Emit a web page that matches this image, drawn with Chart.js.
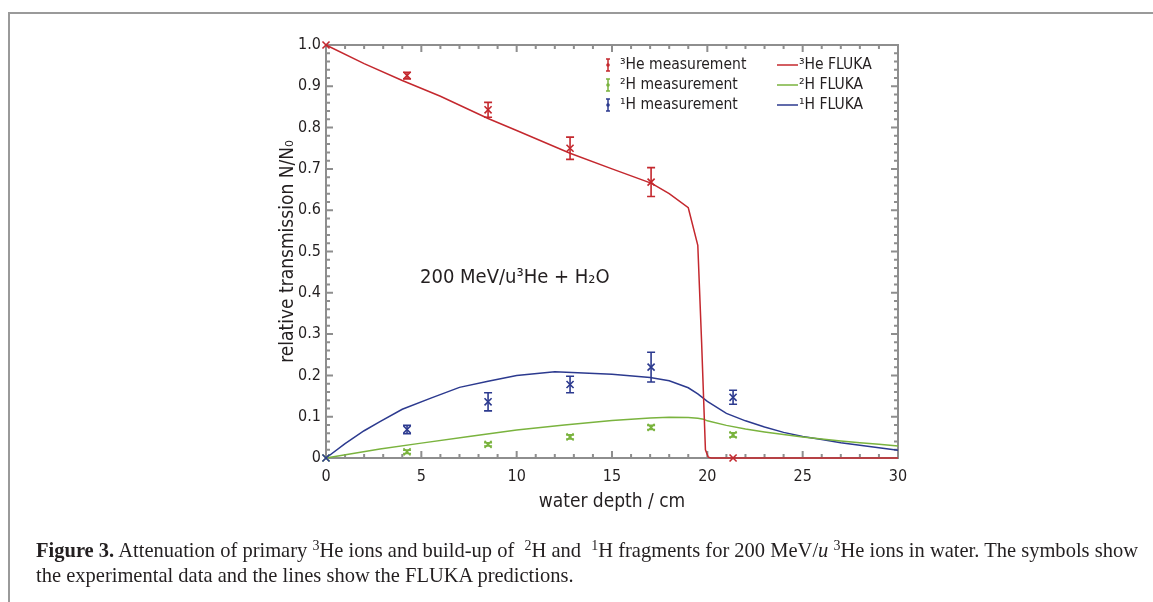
<!DOCTYPE html>
<html>
<head>
<meta charset="utf-8">
<script src="https://cdn.jsdelivr.net/npm/chart.js@4.4.1/dist/chart.umd.min.js"></script>
<style>
  html, body { margin:0; padding:0; background:#fff; width:1153px; height:602px; overflow:hidden; }
  #frame { position:absolute; left:8px; top:12px; width:1200px; height:700px; border-left:2px solid #9a9a9a; border-top:2px solid #9a9a9a; }
  #c { position:absolute; left:0; top:0; }
  #cap { position:absolute; left:36px; top:538px; font-family:'Liberation Serif', serif; font-size:21px; line-height:25px; color:#231f20; white-space:nowrap; transform-origin:left top; }
  #cap sup { font-size:0.68em; vertical-align:0.48em; line-height:0; }
</style>
</head>
<body>
<div id="frame"></div>
<canvas id="c" width="1153" height="602"></canvas>
<div id="cap">
  <div id="l1"><b>Figure 3.</b> Attenuation of primary <sup>3</sup>He ions and build-up of &nbsp;<sup>2</sup>H and &nbsp;<sup>1</sup>H fragments for 200 MeV/<i>u</i> <sup>3</sup>He ions in water. The symbols show</div>
  <div id="l2">the experimental data and the lines show the FLUKA predictions.</div>
</div>
<script>
// ---- data ----
const measDepth = [0, 4.25, 8.5, 12.8, 17.05, 21.35];
const he3Meas = [1.0, 0.926, 0.843, 0.750, 0.668, 0.0];
const he3Err  = [0, 0.008, 0.018, 0.027, 0.035, 0];
const h2Meas  = [0, 0.015, 0.033, 0.051, 0.074, 0.056];
const h2Err   = [0, 0.004, 0.004, 0.005, 0.005, 0.005];
const h1Meas  = [0, 0.069, 0.136, 0.178, 0.220, 0.147];
const h1Err   = [0, 0.010, 0.022, 0.020, 0.036, 0.017];

const he3FlukaX = [0, 2, 4, 6, 8.5, 10, 12.8, 15, 17.08, 18, 19, 19.5, 19.7, 19.9, 20.05, 20.2, 30];
const he3FlukaY = [1.0, 0.955, 0.914, 0.876, 0.822, 0.793, 0.738, 0.700, 0.665, 0.640, 0.606, 0.515, 0.28, 0.02, 0.002, 0, 0];
const h2FlukaX = [0, 2.83, 5, 7.5, 10, 12.5, 15, 17, 18, 19, 19.5, 19.8, 20, 21, 22, 23, 24, 25, 26, 27, 28, 29, 30];
const h2FlukaY = [0, 0.022, 0.036, 0.052, 0.068, 0.080, 0.091, 0.097, 0.0985, 0.098, 0.096, 0.094, 0.090, 0.079, 0.070, 0.063, 0.057, 0.051, 0.046, 0.041, 0.037, 0.033, 0.029];
const h1FlukaX = [0, 1, 2, 2.83, 4, 5.5, 7, 8.5, 10, 12, 15, 17, 18, 19, 19.5, 20, 21, 22, 23, 24, 25, 26, 27, 28, 29, 30];
const h1FlukaY = [0, 0.035, 0.066, 0.088, 0.118, 0.145, 0.171, 0.186, 0.200, 0.209, 0.203, 0.195, 0.187, 0.170, 0.155, 0.137, 0.108, 0.090, 0.075, 0.062, 0.052, 0.045, 0.037, 0.031, 0.025, 0.019];

const xTicks = [0, 5, 10, 15, 20, 25, 30];
const yTickLabels = ['0', '0.1', '0.2', '0.3', '0.4', '0.5', '0.6', '0.7', '0.8', '0.9', '1.0'];

const RED = '#c4282e', GREEN = '#7ab33e', BLUE = '#2c3a8f';
const FONT = "'DejaVu Sans Condensed', 'DejaVu Sans', sans-serif";
const TXT = '#231f20';

const pts = (xs, ys) => xs.map((x, i) => ({x, y: ys[i]}));

const errDatasets = [
  {key: 'he3', err: he3Err, color: RED},
  {key: 'h2', err: h2Err, color: GREEN},
  {key: 'h1', err: h1Err, color: BLUE},
];

const frameTicks = {
  id: 'frameTicks',
  beforeDatasetsDraw(chart) {
    const {ctx, chartArea: a, scales: {x, y}} = chart;
    ctx.save();
    ctx.strokeStyle = '#8e8e8e';
    ctx.lineWidth = 2;
    ctx.beginPath();
    for (let v = 0; v <= 30; v++) {
      const px = x.getPixelForValue(v);
      const L = v % 5 === 0 ? 7 : 4;
      ctx.moveTo(px, a.bottom); ctx.lineTo(px, a.bottom - L);
      ctx.moveTo(px, a.top); ctx.lineTo(px, a.top + L);
    }
    for (let i = 0; i <= 50; i++) {
      const py = y.getPixelForValue(i / 50);
      const L = i % 5 === 0 ? 7 : 4;
      ctx.moveTo(a.left, py); ctx.lineTo(a.left + L, py);
      ctx.moveTo(a.right, py); ctx.lineTo(a.right - L, py);
    }
    ctx.stroke();
    ctx.strokeRect(a.left, a.top, a.right - a.left, a.bottom - a.top);
    ctx.restore();
  }
};

const errorBars = {
  id: 'errorBars',
  afterDatasetsDraw(chart) {
    const {ctx, scales: {x, y}} = chart;
    ctx.save();
    ctx.lineWidth = 1.6;
    chart.data.datasets.forEach(ds => {
      if (!ds.errKey) return;
      const e = errDatasets.find(d => d.key === ds.errKey);
      ctx.strokeStyle = e.color;
      ds.data.forEach((p, i) => {
        const err = e.err[i];
        if (!err) return;
        const px = x.getPixelForValue(p.x);
        const y1 = y.getPixelForValue(p.y - err), y2 = y.getPixelForValue(p.y + err);
        ctx.beginPath();
        ctx.moveTo(px, y1); ctx.lineTo(px, y2);
        ctx.moveTo(px - 4, y1); ctx.lineTo(px + 4, y1);
        ctx.moveTo(px - 4, y2); ctx.lineTo(px + 4, y2);
        ctx.stroke();
      });
    });
    ctx.restore();
  }
};

const legendAndLabel = {
  id: 'legendAndLabel',
  afterDraw(chart) {
    const {ctx} = chart;
    ctx.save();
    ctx.font = "15.5px " + FONT;
    ctx.textBaseline = 'middle';
    ctx.fillStyle = TXT;
    const rows = [65, 85, 105];
    const measNames = ['³He measurement', '²H measurement', '¹H measurement'];
    const flukaNames = ['³He FLUKA', '²H FLUKA', '¹H FLUKA'];
    const cols = [RED, GREEN, BLUE];
    rows.forEach((ry, i) => {
      ctx.strokeStyle = cols[i]; ctx.fillStyle = cols[i];
      ctx.lineWidth = 1.5;
      ctx.beginPath();
      ctx.moveTo(608, ry - 6); ctx.lineTo(608, ry + 6);
      ctx.moveTo(606, ry - 6); ctx.lineTo(610, ry - 6);
      ctx.moveTo(606, ry + 6); ctx.lineTo(610, ry + 6);
      ctx.stroke();
      ctx.beginPath(); ctx.arc(608, ry, 1.8, 0, Math.PI * 2); ctx.fill();
      ctx.beginPath(); ctx.moveTo(777, ry); ctx.lineTo(798, ry); ctx.stroke();
      ctx.fillStyle = TXT;
      ctx.fillText(measNames[i], 620, ry);
      ctx.fillText(flukaNames[i], 799, ry);
    });
    ctx.font = "20px " + FONT;
    ctx.textBaseline = 'alphabetic';
    ctx.fillText('200 MeV/u³He + H₂O', 420, 283);
    ctx.restore();
  }
};

const meas = (label, data, color, key, order) => ({
  label, data: pts(measDepth, data), errKey: key, showLine: false,
  pointStyle: 'crossRot', pointRadius: 5, pointBorderWidth: 1.6,
  borderColor: color, backgroundColor: color, clip: false, order
});
const line = (label, xs, ys, color, order) => ({
  label, data: pts(xs, ys), showLine: true, pointRadius: 0, borderWidth: 1.5,
  borderColor: color, backgroundColor: color, tension: 0, clip: false, order
});

new Chart(document.getElementById('c'), {
  type: 'scatter',
  data: {
    datasets: [
      meas('3He measurement', he3Meas, RED, 'he3', 0.6),
      meas('2H measurement', h2Meas, GREEN, 'h2', 0.3),
      meas('1H measurement', h1Meas, BLUE, 'h1', 0),
      line('3He FLUKA', he3FlukaX, he3FlukaY, RED, 1),
      line('2H FLUKA', h2FlukaX, h2FlukaY, GREEN, 2),
      line('1H FLUKA', h1FlukaX, h1FlukaY, BLUE, 3),
    ]
  },
  options: {
    responsive: false,
    animation: false,
    events: [],
    layout: {padding: {left: 277, right: 255, top: 45, bottom: 89}},
    plugins: {legend: {display: false}, tooltip: {enabled: false}},
    scales: {
      x: {
        type: 'linear', min: 0, max: 30,
        afterFit: s => { s.height = 55; },
        afterBuildTicks: s => { s.ticks = xTicks.map(v => ({value: v})); },
        grid: {display: false, drawTicks: false},
        border: {display: false},
        ticks: {padding: 9, color: TXT, font: {family: FONT, size: 16}, maxRotation: 0},
        title: {display: true, text: 'water depth / cm', color: TXT, font: {family: FONT, size: 19}, padding: 0}
      },
      y: {
        type: 'linear', min: 0, max: 1,
        afterFit: s => { s.width = 49; },
        afterBuildTicks: s => { s.ticks = yTickLabels.map((t, i) => ({value: i / 10})); },
        grid: {display: false, drawTicks: false},
        border: {display: false},
        ticks: {padding: 5, color: TXT, font: {family: FONT, size: 16}, callback: (v, i) => yTickLabels[i]},
        title: {display: true, text: 'relative transmission N/N₀', color: TXT, font: {family: FONT, size: 19}, padding: 0}
      }
    }
  },
  plugins: [frameTicks, errorBars, legendAndLabel]
});

// fit caption width
const cap = document.getElementById('cap');
const l1 = document.getElementById('l1');
l1.style.display = 'inline-block';
const w1 = l1.getBoundingClientRect().width;
l1.style.display = 'block';
cap.style.transform = 'scaleX(' + (1102 / w1) + ')';
</script>
</body>
</html>
